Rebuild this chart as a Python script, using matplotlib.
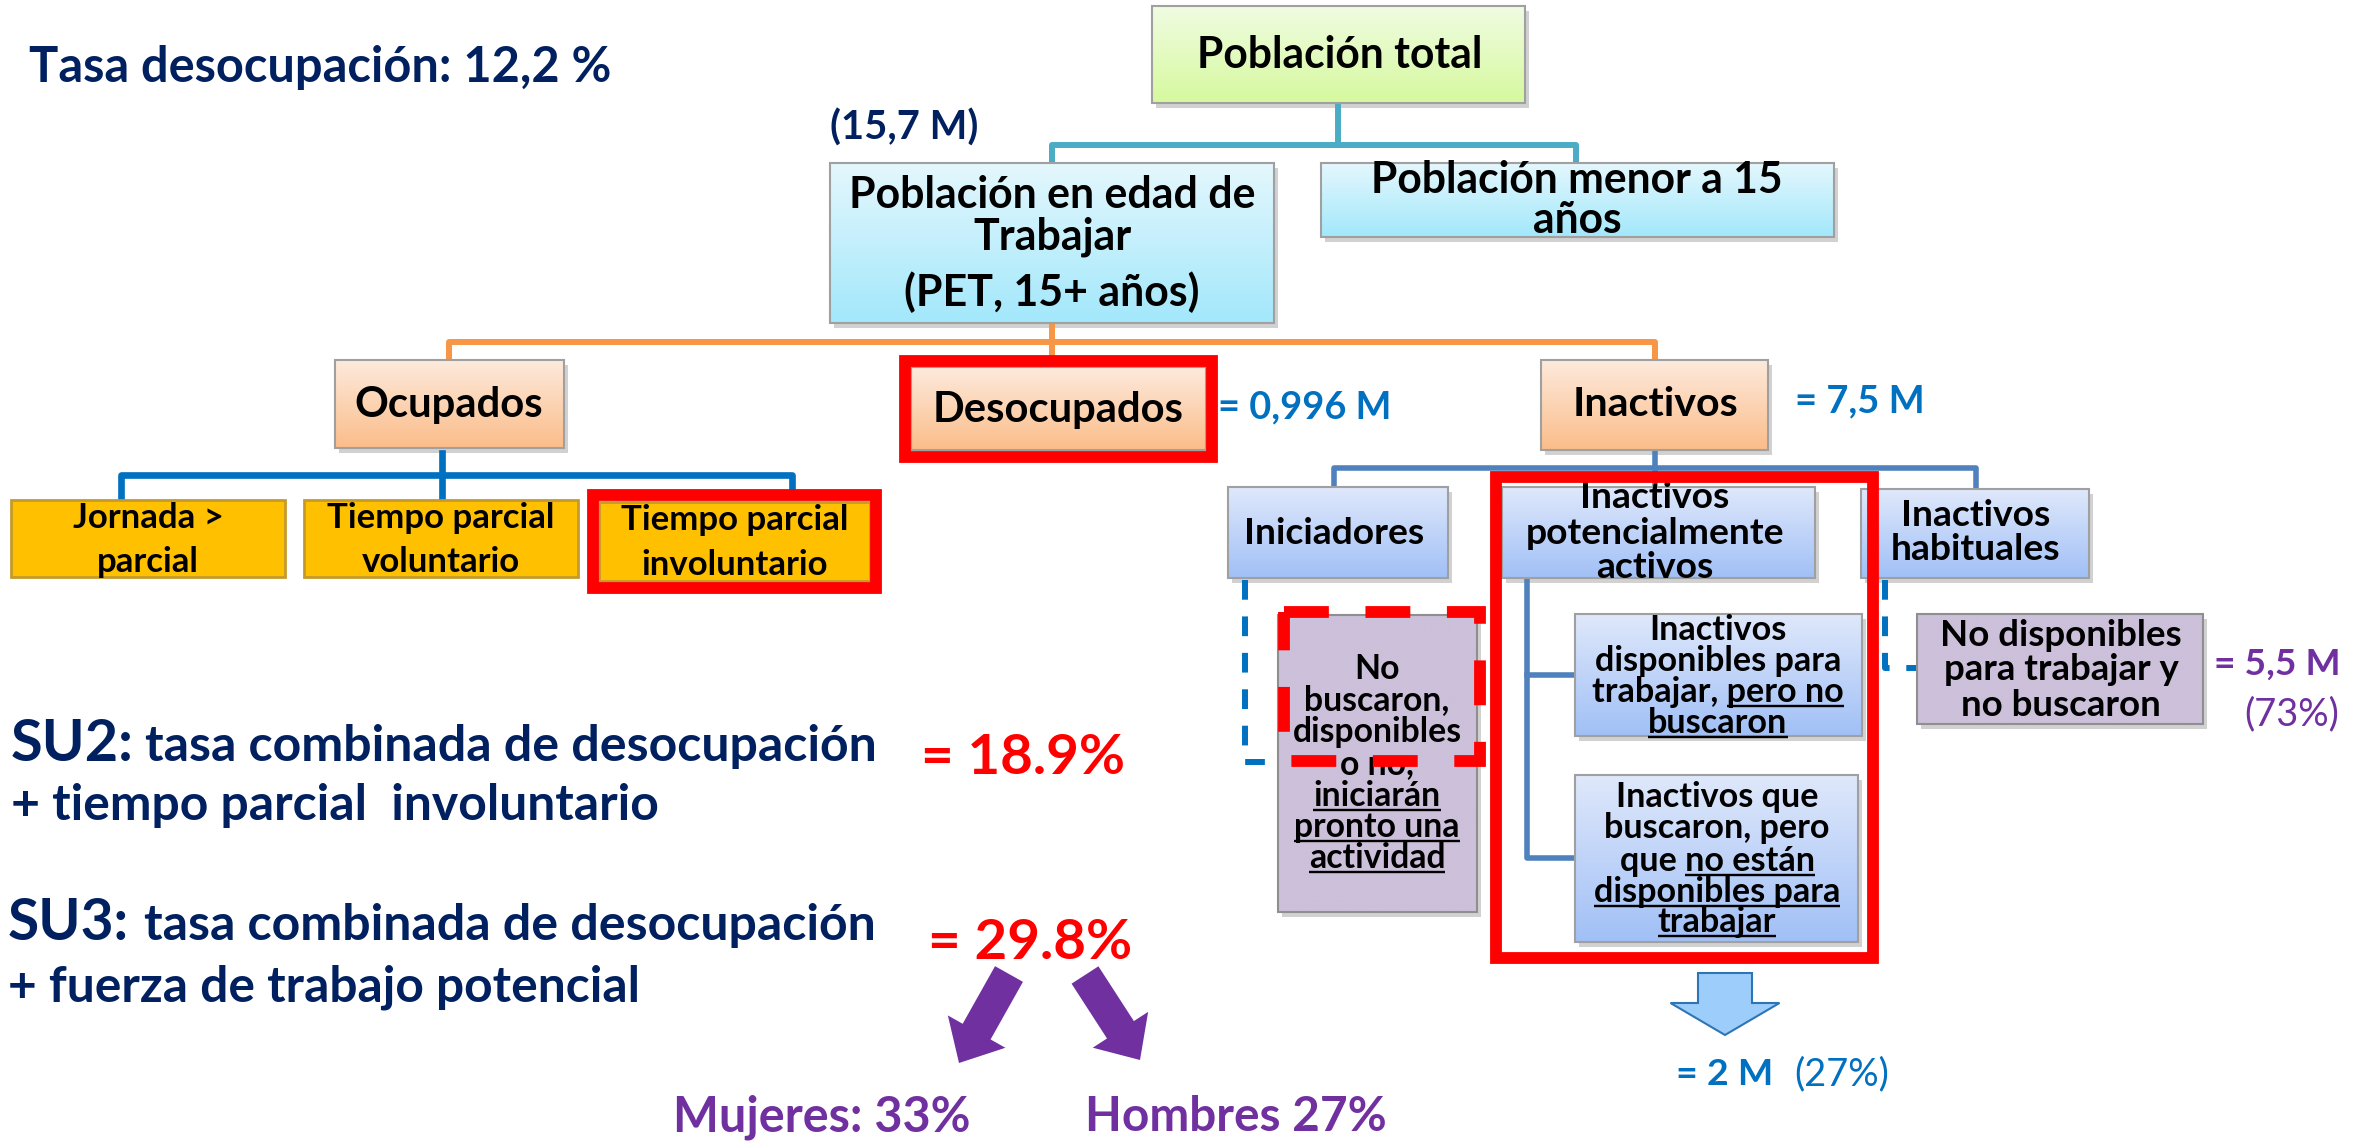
import numpy as np
import matplotlib
matplotlib.use("Agg")
import matplotlib.pyplot as plt
import matplotlib.colors as mcolors
from matplotlib.patches import Rectangle, FancyArrow
from matplotlib.font_manager import FontProperties

# textos y valores del diagrama
titulo = "Tasa desocupación: 12,2 %"
pet_total = "(15,7 M)"
nivel0 = "Población total"
nivel1 = [["Población en edad de", "Trabajar", "(PET, 15+ años)"],
          ["Población menor a 15", "años"]]
nivel2 = ["Ocupados", "Desocupados", "Inactivos"]
nivel2_valores = ["= 0,996 M", "= 7,5 M"]
ocupados_hijos = [["Jornada >", "parcial"],
                  ["Tiempo parcial", "voluntario"],
                  ["Tiempo parcial", "involuntario"]]
inactivos_hijos = [["Iniciadores"],
                   ["Inactivos", "potencialmente", "activos"],
                   ["Inactivos", "habituales"]]
potenciales = [["Inactivos", "disponibles para", "trabajar, pero no", "buscaron"],
               ["Inactivos que", "buscaron, pero", "que no están", "disponibles para", "trabajar"]]
potenciales_sub = [[None, None, "pero no", "buscaron"],
                   [None, None, "no están", "disponibles para", "trabajar"]]
iniciadores = ["No", "buscaron,", "disponibles", "o no,", "iniciarán", "pronto una", "actividad"]
iniciadores_sub = [None, None, None, None, "iniciarán", "pronto una", "actividad"]
habituales = ["No disponibles", "para trabajar y", "no buscaron"]
habituales_valor = ["= 5,5 M", "(73%)"]
potenciales_valor = ["= 2 M", "(27%)"]
su_nombres = ["SU2:", "SU3:"]
su_linea1 = ["tasa combinada de desocupación", "tasa combinada de desocupación"]
su_linea2 = ["+ tiempo parcial  involuntario", "+ fuerza de trabajo potencial"]
su_tasas = ["= 18.9%", "= 29.8%"]
sexo_tasas = ["Mujeres: 33%", "Hombres 27%"]

W, H = 2369, 1141
FONT = ["Lato", "DejaVu Sans"]
NAVY = "#002060"
BLUE = "#0070c0"
RED = "#ff0000"
PURPLE = "#7030a0"

fig = plt.figure(figsize=(W / 100, H / 100), dpi=100)
ax = fig.add_axes([0, 0, 1, 1])
ax.axis("off")
renderer = fig.canvas.get_renderer()


def ancho(s, size, weight="bold"):
    fp = FontProperties(family=FONT, weight=weight, size=size)
    return renderer.get_text_width_height_descent(s, fp, ismath=False)[0]


def fit(s, width, weight="bold"):
    return 100.0 * width / ancho(s, 100, weight)


def texto(x, y, s, size, color="black", weight="bold", ha="center", va="center", sub=None):
    ax.text(x, y, s, fontsize=size, color=color, fontweight=weight, ha=ha, va=va,
            family=FONT, zorder=5)
    if sub:
        w = ancho(s, size, weight)
        u = ancho(sub, size, weight)
        left = x - w / 2 if ha == "center" else x
        uy = y + size * 100 / 72 * 0.42
        ax.plot([left + w - u, left + w], [uy, uy], color=color, lw=size * 0.07, zorder=5,
                solid_capstyle="butt")


def caja(x0, y0, x1, y1, top, bottom, edge="#a0a0a0"):
    ax.add_patch(Rectangle((x0 + 4, y0 + 5), x1 - x0, y1 - y0, fc="#9a9a9a", ec="none",
                           alpha=0.45, zorder=1))
    c0 = np.array(mcolors.to_rgb(top))
    c1 = np.array(mcolors.to_rgb(bottom))
    t = np.linspace(0, 1, 64)[:, None, None]
    ax.imshow(c0 + (c1 - c0) * t, extent=(x0, x1, y1, y0), origin="upper",
              aspect="auto", zorder=2, interpolation="bilinear")
    ax.add_patch(Rectangle((x0, y0), x1 - x0, y1 - y0, fc="none", ec=edge, lw=1.5, zorder=3))


def lineas(cx, ys, lines, size, subs=None):
    for i, (y, s) in enumerate(zip(ys, lines)):
        texto(cx, y, s, size, sub=subs[i] if subs else None)


def conector(pts, color, lw=4.3, ls="-"):
    xs, ys = zip(*pts)
    ax.plot(xs, ys, color=color, lw=lw, ls=ls, zorder=1.5, solid_capstyle="projecting",
            dash_capstyle="butt")


def marco(x0, y0, x1, y1, ls="-"):
    ax.add_patch(Rectangle((x0, y0), x1 - x0, y1 - y0, fc="none", ec=RED, lw=8.5,
                           ls=ls, zorder=7, capstyle="butt", joinstyle="miter"))


GREEN = ("#f0fce2", "#d6f99e")
CYAN = ("#e4f7fd", "#a3e8fb")
PEACH = ("#fdeadc", "#fbbd8a")
LILAC = ("#dfe8fb", "#a1c0f6")
GOLD = "#ffc000"
LAV = "#ccc0da"

# conectores
teal = "#4bacc6"
conector([(1338, 103), (1338, 145)], teal)
conector([(1052, 163), (1052, 145), (1576, 145), (1576, 163)], teal)
orange = "#f79646"
conector([(1052, 323), (1052, 356)], orange)
conector([(449, 360), (449, 342), (1655, 342), (1655, 360)], orange)
conector([(442, 453), (442, 498)], BLUE, lw=4.8)
conector([(121, 500), (121, 475), (792, 475), (792, 489)], BLUE, lw=4.8)
steel = "#4f81bd"
conector([(1655, 450), (1655, 487)], steel, lw=4.0)
conector([(1334, 487), (1334, 468), (1976, 468), (1976, 489)], steel, lw=4.0)
conector([(1527, 578), (1527, 858), (1575, 858)], steel, lw=4.0)
conector([(1527, 675), (1575, 675)], steel, lw=4.0)
conector([(1245, 580), (1245, 762), (1266, 762)], BLUE, lw=4.3, ls=(0, (3.3, 2.8)))
conector([(1885, 580), (1885, 668), (1917, 668)], BLUE, lw=4.3, ls=(0, (3.3, 2.8)))

# nivel 0 y 1
caja(1152, 6, 1525, 103, *GREEN)
texto(1340, 55, nivel0, fit(nivel0, 286))
caja(830, 163, 1274, 323, *CYAN)
lineas(1052, [195, 237, 292], nivel1[0], fit(nivel1[0][0], 407))
caja(1321, 163, 1834, 237, *CYAN)
lineas(1577, [180, 220], nivel1[1], fit(nivel1[1][0], 412))
texto(830, 140, pet_total, fit(pet_total, 148), color=NAVY, ha="left", va="baseline")

# nivel 2
caja(335, 360, 564, 448, *PEACH)
texto(449, 405, nivel2[0], fit(nivel2[0], 189))
caja(911, 367, 1206, 450, *PEACH)
texto(1058, 410, nivel2[1], fit(nivel2[1], 251))
marco(905, 361, 1212, 457)
caja(1541, 360, 1768, 450, *PEACH)
texto(1655, 405, nivel2[2], fit(nivel2[2], 166))
texto(1218, 418, nivel2_valores[0], fit(nivel2_valores[0], 173), color=BLUE, ha="left", va="baseline")
texto(1795, 412, nivel2_valores[1], fit(nivel2_valores[1], 130), color=BLUE, ha="left", va="baseline")

# ocupados
s_gold = fit("Tiempo parcial", 228)
for (x0, y0, x1, y1), lines, ys in zip([(11, 500, 285, 577), (304, 500, 578, 577), (599, 502, 870, 581)],
                                       ocupados_hijos, [[518, 562], [518, 562], [520, 565]]):
    ax.add_patch(Rectangle((x0, y0), x1 - x0, y1 - y0, fc=GOLD, ec="#c49a2c", lw=2, zorder=2))
    lineas((x0 + x1) / 2, ys, lines, s_gold)
marco(593, 495, 876, 588)

# inactivos
s_in = fit("potencialmente", 259)
caja(1228, 487, 1448, 578, *LILAC)
lineas(1334, [533], inactivos_hijos[0], s_in)
caja(1502, 487, 1815, 578, *LILAC)
lineas(1655, [498, 534, 568], inactivos_hijos[1], s_in)
caja(1861, 489, 2089, 578, *LILAC)
lineas(1976, [516, 550], inactivos_hijos[2], s_in)

s_pot = fit("trabajar, pero no", 252)
caja(1575, 614, 1862, 736, *LILAC)
lineas(1718, [630, 661, 692, 723], potenciales[0], s_pot, potenciales_sub[0])
caja(1575, 775, 1858, 942, *LILAC)
lineas(1717, [797, 828, 861, 892, 922], potenciales[1], s_pot, potenciales_sub[1])
marco(1496, 477, 1873, 958)

caja(1278, 615, 1477, 912, LAV, LAV, edge="#8f8f8f")
lineas(1377, [669, 700, 732, 764, 796, 827, 858], iniciadores, fit("disponibles", 169), iniciadores_sub)
marco(1284, 612, 1480, 761, ls=(0, (3.8, 3.1)))

caja(1917, 614, 2203, 724, LAV, LAV, edge="#8f8f8f")
lineas(2061, [635, 670, 705], habituales, fit("No disponibles", 242))
texto(2214, 675, habituales_valor[0], fit(habituales_valor[0], 127), color=PURPLE, ha="left", va="baseline")
texto(2244, 725, habituales_valor[1], fit(habituales_valor[1], 95, "normal"), color=PURPLE,
      weight="normal", ha="left", va="baseline")

ax.add_patch(FancyArrow(1725, 973, 0, 62, width=54, head_width=109, head_length=32,
                        length_includes_head=True, fc="#9dcdfb", ec="#2e75b6", lw=1.5, zorder=4))
texto(1676, 1085, potenciales_valor[0], fit(potenciales_valor[0], 97), color=BLUE, ha="left", va="baseline")
texto(1794, 1085, potenciales_valor[1], fit(potenciales_valor[1], 95, "normal"), color=BLUE,
      weight="normal", ha="left", va="baseline")

# textos libres
texto(29, 82, titulo, fit(titulo, 582), color=NAVY, ha="left", va="baseline")

su_x = [11, 8]
su_x1 = [145, 144]
su_base = [761, 940]
su_base2 = [820, 1001]
su_w = [123, 121]
su_w2 = [649, 632]
tasa_x = [921, 928]
tasa_base = [774, 959]
s_l1 = fit(su_linea1[0], 733)
for i in range(2):
    texto(su_x[i], su_base[i], su_nombres[i], fit(su_nombres[i], su_w[i]), color=NAVY, ha="left", va="baseline")
    texto(su_x1[i], su_base[i], su_linea1[i], s_l1, color=NAVY, ha="left", va="baseline")
    texto(su_x[i], su_base2[i], su_linea2[i], fit(su_linea2[i], su_w2[i]), color=NAVY, ha="left", va="baseline")
    texto(tasa_x[i], tasa_base[i], su_tasas[i], fit(su_tasas[i], 204), color=RED, ha="left", va="baseline")

ax.add_patch(FancyArrow(1009, 974, -50, 89, width=32, head_width=66, head_length=36,
                        length_includes_head=True, fc=PURPLE, ec="none", zorder=4))
ax.add_patch(FancyArrow(1085, 975, 55, 85, width=32, head_width=66, head_length=36,
                        length_includes_head=True, fc=PURPLE, ec="none", zorder=4))
texto(673, 1131, sexo_tasas[0], fit(sexo_tasas[0], 298), color=PURPLE, ha="left", va="baseline")
texto(1085, 1131, sexo_tasas[1], fit(sexo_tasas[1], 302), color=PURPLE, ha="left", va="baseline")

ax.set_xlim(0, W)
ax.set_ylim(H, 0)
fig.savefig("out.png", dpi=100)
